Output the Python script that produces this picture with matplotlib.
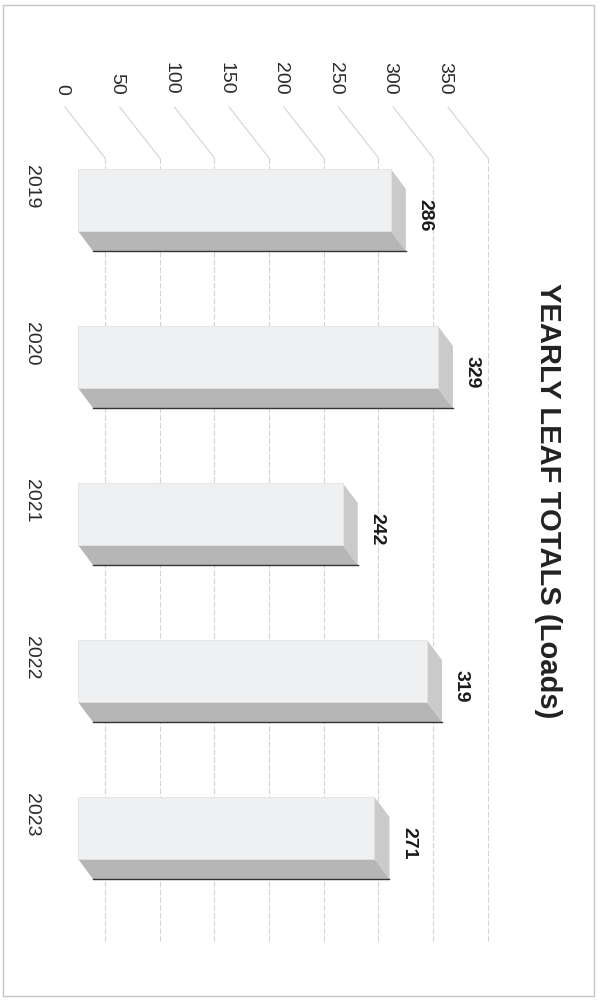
import matplotlib
matplotlib.use('Agg')
import matplotlib.pyplot as plt
from matplotlib import font_manager
from matplotlib.patches import Polygon, Rectangle

# chart data
years = ['2019', '2020', '2021', '2022', '2023']
loads = [286, 329, 242, 319, 271]
ticks = [0, 50, 100, 150, 200, 250, 300, 350]
title = 'YEARLY LEAF TOTALS (Loads)'

# pick a narrow font if there is one (the scan looks condensed)
available = {f.name for f in font_manager.fontManager.ttflist}
if 'Liberation Sans Narrow' in available:
    font = 'Liberation Sans Narrow'
    tick_size, title_size = 18, 25
else:
    font = 'Liberation Sans'
    tick_size, title_size = 14, 21
plt.rcParams['font.family'] = [font, 'DejaVu Sans']

fig = plt.figure(figsize=(6, 10.01), dpi=100)
ax = fig.add_axes([0, 0, 1, 1])
ax.axis('off')

# value axis runs left->right, categories top->bottom (chart is rotated)
px_per_unit = 1.094
px_per_cat = 157
ax.set_xlim(-78 / px_per_unit, (600 - 78) / px_per_unit)
ax.set_ylim((1001 - 200) / px_per_cat, -200 / px_per_cat)

bar_h = 62 / px_per_cat
dx = 15 / px_per_unit      # bar depth
dy = 20 / px_per_cat
wall_dx = 27 / px_per_unit  # back wall offset
wall_top = -42 / px_per_cat
wall_bottom = 743 / px_per_cat
side_dx = 40 / px_per_unit
side_top = -93 / px_per_cat

# back wall and side wall grid
for t in ticks:
    xw = t + wall_dx
    ax.plot([xw, xw], [wall_top, wall_bottom], color='#d4d4d4', lw=0.8,
            ls=(0, (5, 2)), zorder=1)
    ax.plot([xw - side_dx, xw], [side_top, wall_top], color='#d4d4d4',
            lw=0.8, zorder=1)
    ax.text(t - 16 / px_per_unit, -105 / px_per_cat, str(t), rotation=-90,
            ha='center', va='bottom', fontsize=tick_size, color='#2a2a2a')

# 3D-looking bars
pos = list(range(len(years)))
ax.barh(pos, loads, height=bar_h, left=0, color='#eff0f2',
        edgecolor='#e2e2e2', lw=0.6, zorder=4)
for i, v in zip(pos, loads):
    top, bot = i - bar_h / 2, i + bar_h / 2
    side = Polygon([(0, bot), (v, bot), (v + dx, bot + dy), (dx, bot + dy)],
                   closed=True, facecolor='#b6b6b6', edgecolor='none', zorder=3)
    end = Polygon([(v, top), (v + dx, top + dy), (v + dx, bot + dy), (v, bot)],
                  closed=True, facecolor='#cacaca', edgecolor='none', zorder=3)
    ax.add_patch(side)
    ax.add_patch(end)
    ax.plot([dx, v + dx], [bot + dy, bot + dy], color='#333333', lw=1.0, zorder=5)
    ax.text(v + 34 / px_per_unit, i + 15 / px_per_cat, str(v), rotation=-90,
            ha='center', va='center', fontsize=tick_size, fontweight='bold',
            color='#1a1a1a')

for i, y in zip(pos, years):
    ax.text(-46 / px_per_unit, i - 13 / px_per_cat, y, rotation=-90,
            ha='center', va='center', fontsize=tick_size, color='#2a2a2a')

fig.text(548 / 600, 0.5, title, rotation=-90, ha='center', va='center',
         fontsize=title_size, fontweight='bold', color='#222222')

# page border
fig.patches.append(Rectangle((3 / 600, 5 / 1001), 591 / 600, 991 / 1001,
                             transform=fig.transFigure, fill=False,
                             edgecolor='#c4c4c4', lw=1.0))

fig.savefig('out.png', dpi=100, facecolor='white')
